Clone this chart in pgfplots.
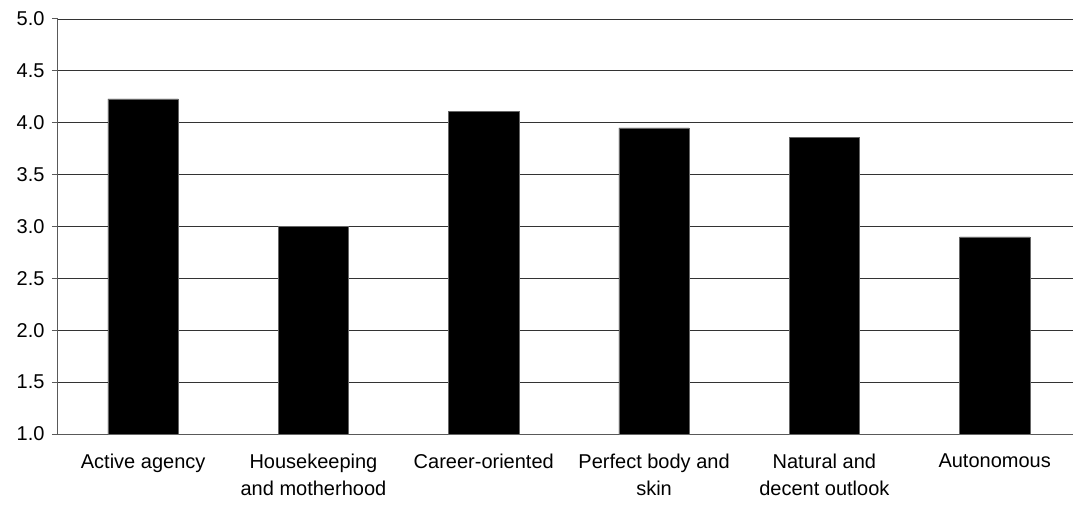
\documentclass[border=0pt]{standalone}
\usepackage{pgfplots}
\pgfplotsset{compat=1.18}
\usepackage{fontspec}
\setmainfont{Liberation Sans}
\begin{document}
\begin{tikzpicture}
\useasboundingbox (0,0) rectangle (1073pt,509pt);
\begin{axis}[
  at={(58pt,75pt)}, anchor=south west,
  scale only axis, width=1015pt, height=415pt,
  xmin=-0.5, xmax=5.46, ymin=1, ymax=5,
  axis x line*=bottom, axis y line*=left,
  axis line style={draw=black!65, line width=1pt},
  ytick={1,1.5,...,5},
  yticklabel style={/pgf/number format/fixed, /pgf/number format/fixed zerofill, /pgf/number format/precision=1},
  /pgf/number format/assume math mode=true,
  ymajorgrids, grid style={draw=black!80, line width=0.9pt},
  tick align=outside, major tick length=6pt,
  tick style={draw=black!65, line width=1pt},
  xtick={0,...,5},
  x tick style={draw=none},
  xticklabels={Active agency, Housekeeping\\and motherhood, Career-oriented, Perfect body and\\skin, Natural and\\decent outlook, Autonomous},
  x tick label style={align=center, yshift=-10pt},
  extra x ticks={-0.5,0.5,1.5,2.5,3.5,4.5,5.5},
  extra x tick labels={},
  extra x tick style={grid=none, tick style={draw=black!65, line width=1pt}},
  ticklabel style={font=\fontsize{20}{27}\selectfont},
  y tick label style={xshift=-4pt},
  clip=false,
]
\addplot[ybar, bar width=0.413, bar shift=0pt, fill=black, draw=black!60, line width=0.6pt]
  coordinates {(0,4.23) (1,3.00) (2,4.11) (3,3.95) (4,3.86) (5,2.90)};
\end{axis}
\end{tikzpicture}
\end{document}
